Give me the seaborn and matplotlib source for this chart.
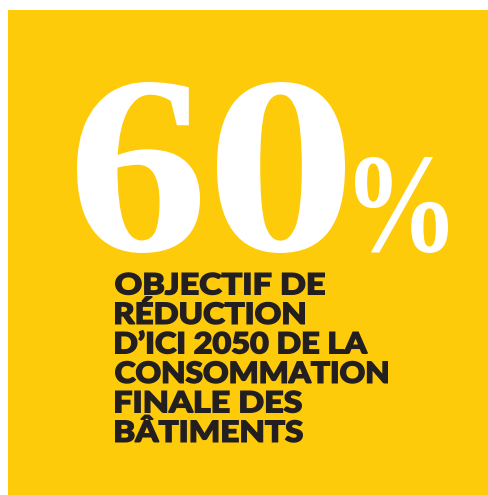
import matplotlib
matplotlib.use("Agg")
import matplotlib.pyplot as plt
import seaborn as sns
from matplotlib.textpath import TextPath
from matplotlib.font_manager import FontProperties
from matplotlib.patches import PathPatch, Rectangle
from matplotlib.transforms import Affine2D

# contenu de l'infographie
percent_value = 60
percent_sign = "%"
caption_lines = ["OBJECTIF DE", "RÉDUCTION", "D’ICI 2050 DE LA",
                 "CONSOMMATION", "FINALE DES", "BÂTIMENTS"]

sns.set_theme(style="white")

W, H = 489, 495
fig = plt.figure(figsize=(W / 100, H / 100), dpi=100)
ax = fig.add_axes([0, 0, 1, 1])
ax.set_xlim(0, W)
ax.set_ylim(H, 0)
ax.axis("off")

yellow = "#FECB0B"
dark = "#231F20"
ax.add_patch(Rectangle((8, 10), W - 8, H - 10, color=yellow, lw=0))

serif = FontProperties(family="Liberation Serif", weight="bold")
heavy = FontProperties(family="Lato", weight="black")


def fit_path(s, prop, x0, x1, y0, y1):
    # stretch the glyph outline into a pixel box (y axis is inverted)
    tp = TextPath((0, 0), s, prop=prop)
    ext = tp.get_extents()
    tr = (Affine2D().translate(-ext.x0, -ext.y0)
          .scale((x1 - x0) / ext.width, -(y1 - y0) / ext.height)
          .translate(x0, y1))
    return tr.transform_path(tp)


# grand chiffre
digits = str(percent_value)
boxes = [(77, 200), (217, 345)]
for ch, (x0, x1) in zip(digits, boxes):
    ax.add_patch(PathPatch(fit_path(ch, serif, x0, x1, 82, 253), fc="white", lw=0))
ax.add_patch(PathPatch(fit_path(percent_sign, serif, 355, 448, 157, 253), fc="white", lw=0))

# légende (contour ajouté pour épaissir le trait)
stroke = 1.5  # pixels
pad = stroke / 2
cap_h = 22.5 - 2 * pad
left = 115 + pad
right_edges = [325, 305, 368, 388, 302, 303]
s = cap_h / TextPath((0, 0), "H", prop=heavy).get_extents().height
for i, (line, r) in enumerate(zip(caption_lines, right_edges)):
    tp = TextPath((0, 0), line, prop=heavy)
    ext = tp.get_extents()
    kx = (r - pad - left) / ext.width
    base = 272.5 + 29.5 * i + 22.5 - pad
    tr = Affine2D().translate(-ext.x0, 0).scale(kx, -s).translate(left, base)
    ax.add_patch(PathPatch(tr.transform_path(tp), fc=dark, ec=dark,
                           lw=stroke * 72 / 100, joinstyle="miter"))

fig.savefig("out.png", dpi=100)
